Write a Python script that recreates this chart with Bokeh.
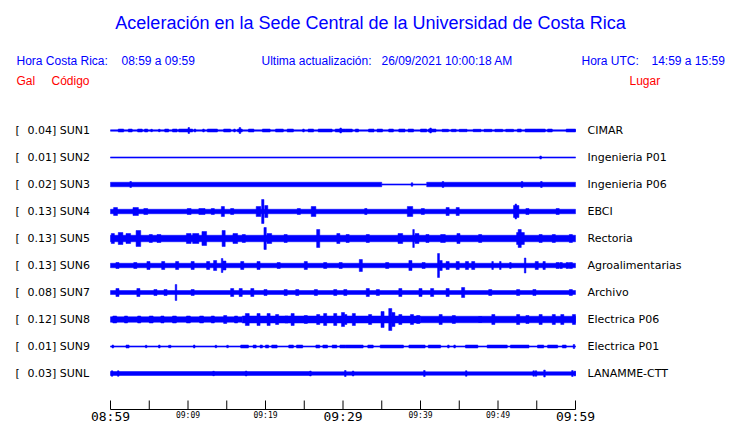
from bokeh.plotting import figure
from bokeh.models import Range1d
from bokeh.core.properties import value
from bokeh.embed import file_html
from bokeh.resources import INLINE

# ---------------- data ----------------
codes = ["SUN1", "SUN2", "SUN3", "SUN4", "SUN5", "SUN6", "SUN7", "SUN8", "SUN9", "SUNL"]
gal = ["0.04", "0.01", "0.02", "0.13", "0.13", "0.13", "0.08", "0.12", "0.01", "0.03"]
places = ["CIMAR", "Ingenieria P01", "Ingenieria P06", "EBCI", "Rectoria",
          "Agroalimentarias", "Archivo", "Electrica P06", "Electrica P01", "LANAMME-CTT"]

tick_minutes = [0, 5, 10, 15, 20, 25, 30, 35, 40, 45, 50, 55, 60]
major_minutes = [0, 30, 60]
major_labels = ["08:59", "09:29", "09:59"]
minor_minutes = [10, 20, 40, 50]
minor_labels = ["09:09", "09:19", "09:39", "09:49"]

title = "Aceleración en la Sede Central de la Universidad de Costa Rica"

# trace envelopes: noise floor segments (t0, t1, peak-to-peak) and bursts (t0, t1, peak-to-peak)
# time in minutes after 08:59, amplitude in display units (27 units = one trace spacing)
floor_sun1 = [(0, 60, 1.5)]
burst_sun1 = [(1.0, 1.7, 3), (2.3, 2.8, 3), (3.5, 4.1, 3), (4.4, 4.8, 3), (5.2, 5.4, 2.5), (6.2, 6.4, 2.5),
              (7.0, 7.5, 3), (8.0, 8.6, 3), (8.8, 10.6, 3), (10.0, 10.2, 6), (10.8, 11.0, 3), (11.9, 12.1, 3),
              (12.5, 13.8, 3), (14.6, 15.5, 3), (15.9, 16.1, 3), (16.4, 17.0, 3), (16.6, 16.8, 6), (17.8, 18.5, 3),
              (19.6, 20.6, 3), (21.3, 22.3, 3), (22.8, 23.6, 3), (24.8, 25.0, 3), (25.5, 26.2, 3), (26.8, 28.6, 3),
              (29.0, 30.3, 3), (29.6, 29.8, 5), (30.3, 31.2, 3), (31.6, 32.0, 3), (33.3, 34.0, 3), (34.4, 35.1, 3),
              (35.9, 36.5, 3), (37.2, 38.0, 3), (38.4, 39.1, 3), (40.0, 40.8, 3), (41.0, 42.0, 3), (41.2, 41.4, 5),
              (42.8, 43.6, 2.5), (44.0, 44.6, 2.5), (45.0, 46.0, 2.5), (46.8, 47.8, 2.5), (48.2, 49.2, 2.5),
              (49.6, 50.6, 2.5), (51.0, 52.0, 2.5), (52.5, 53.0, 3), (53.5, 56.1, 3), (56.4, 57.0, 3), (58.8, 60, 3)]

floor_sun2 = [(0, 60, 1.2)]
burst_sun2 = [(55.4, 55.6, 3)]

floor_sun3 = [(0, 35.0, 4.5), (35.0, 40.8, 1.2), (40.8, 60, 4.5)]
burst_sun3 = [(2.5, 2.7, 6), (38.8, 39.0, 3.5), (42.8, 43.0, 6), (53.0, 53.2, 6), (55.5, 55.7, 6)]

floor_sun4 = [(0, 60, 4.5)]
burst_sun4 = [(0.4, 0.9, 8), (2.9, 3.6, 8), (4.3, 4.8, 6), (9.9, 10.4, 6), (11.4, 12.2, 6), (13.0, 13.4, 6),
              (14.3, 14.7, 10), (15.5, 15.9, 6), (18.8, 19.4, 10), (19.5, 19.8, 24), (19.9, 20.3, 12),
              (24.1, 24.5, 6), (25.9, 26.5, 10), (32.8, 33.1, 6), (38.3, 39.0, 10), (40.1, 40.5, 6),
              (43.3, 43.7, 8), (44.6, 45.0, 8), (52.0, 52.7, 12), (52.2, 52.4, 15), (53.6, 54.0, 6), (57.5, 57.9, 6)]

floor_sun5 = [(0, 60, 6.5)]
burst_sun5 = [(0.1, 0.5, 10), (1.0, 1.6, 12), (2.0, 2.6, 10), (3.3, 3.9, 16), (5.0, 5.4, 8), (6.0, 6.5, 8),
              (9.8, 10.4, 10), (10.6, 11.4, 10), (11.8, 12.4, 14), (14.4, 14.8, 16), (15.8, 16.4, 10),
              (17.0, 17.4, 8), (19.8, 20.1, 22), (20.2, 20.8, 10), (22.4, 22.8, 8), (26.6, 27.0, 18),
              (29.2, 29.6, 10), (30.4, 30.8, 8), (33.0, 33.4, 8), (37.1, 37.7, 10), (39.0, 39.2, 18),
              (39.3, 39.8, 10), (40.7, 41.1, 8), (42.6, 43.2, 8), (44.7, 45.1, 10), (47.5, 47.9, 8),
              (52.4, 53.4, 12), (52.6, 53.0, 18), (55.3, 55.7, 8), (57.0, 57.4, 8), (59.2, 59.6, 8)]

floor_sun6 = [(0, 60, 4.5)]
burst_sun6 = [(0.7, 1.1, 6), (3.0, 3.4, 6), (4.7, 5.1, 8), (6.6, 7.0, 8), (8.4, 8.8, 8), (10.4, 10.8, 8),
              (12.4, 12.8, 8), (13.3, 13.7, 10), (14.3, 14.5, 14), (14.5, 14.9, 9), (16.8, 17.2, 8),
              (18.9, 19.3, 8), (21.5, 21.9, 6), (25.0, 25.4, 8), (27.5, 27.9, 6), (29.5, 29.9, 6),
              (32.1, 32.5, 12), (35.5, 35.9, 6), (38.5, 38.9, 10), (40.2, 40.6, 6), (42.2, 42.45, 24),
              (42.45, 42.8, 10), (43.3, 43.7, 8), (44.6, 45.0, 8), (45.8, 46.2, 8), (46.6, 47.0, 8),
              (49.2, 49.4, 8), (50.2, 50.4, 8), (51.5, 51.7, 6), (53.4, 53.6, 15), (54.8, 55.2, 8),
              (55.8, 56.1, 8), (57.5, 57.9, 6), (58.0, 58.3, 6), (58.8, 59.1, 6), (59.2, 59.6, 6)]

floor_sun7 = [(0, 60, 4)]
burst_sun7 = [(0.7, 1.1, 8), (3.4, 3.8, 8), (5.6, 6.0, 6), (6.9, 7.3, 6), (8.35, 8.55, 16), (10.4, 10.8, 6),
              (15.5, 15.9, 8), (16.6, 17.0, 8), (18.1, 18.5, 8), (19.8, 20.2, 6), (22.4, 22.8, 6),
              (23.9, 24.3, 6), (26.3, 26.7, 6), (28.8, 29.2, 6), (30.1, 30.5, 6), (33.0, 33.4, 8),
              (34.3, 34.7, 6), (37.2, 37.6, 8), (39.8, 40.2, 8), (41.3, 41.7, 8), (43.3, 43.7, 8),
              (45.3, 45.7, 10), (48.8, 49.2, 6), (52.4, 52.8, 6), (54.5, 54.9, 6), (59.2, 59.6, 6)]

floor_sun8 = [(0, 17, 5.5), (17, 40, 7), (40, 60, 6.5)]
burst_sun8 = [(0.3, 0.8, 7), (1.8, 2.2, 7), (3.5, 3.9, 7), (5.0, 5.5, 7), (6.5, 6.9, 7), (8.0, 8.5, 7),
              (9.8, 10.3, 7), (11.5, 12.0, 7), (13.0, 13.4, 7), (14.6, 15.0, 8), (16.0, 16.4, 7),
              (17.4, 17.9, 12), (18.9, 19.3, 12), (20.2, 20.6, 12), (21.3, 21.7, 10), (22.5, 22.9, 7),
              (23.3, 23.7, 12), (25.0, 25.4, 8), (26.6, 27.0, 10), (27.5, 27.9, 12), (28.8, 29.2, 12),
              (29.8, 30.2, 14), (30.2, 30.5, 10), (31.2, 31.6, 12), (33.3, 33.7, 10), (34.9, 35.3, 16),
              (35.9, 36.3, 22), (36.3, 36.7, 14), (37.2, 37.6, 10), (38.7, 39.1, 10), (39.5, 39.9, 8),
              (42.4, 42.8, 10), (44.1, 44.5, 8), (47.5, 47.9, 6), (49.2, 49.6, 10), (52.4, 52.8, 10),
              (53.6, 54.0, 8), (55.3, 55.7, 10), (57.0, 57.4, 10), (58.1, 58.5, 10), (59.6, 60.0, 10)]

floor_sun9 = [(0, 60, 1.2)]
burst_sun9 = [(0.2, 0.4, 3), (2.0, 2.4, 3), (4.5, 4.7, 2.5), (6.2, 6.4, 3), (7.5, 7.8, 2.5), (10.7, 10.9, 3),
              (13.5, 13.7, 2.5), (15.0, 15.2, 2.5), (16.8, 17.8, 3), (18.4, 18.8, 3), (19.3, 19.6, 3),
              (20.0, 20.4, 3), (20.8, 21.5, 3), (23.0, 23.6, 3), (24.0, 24.8, 3), (26.5, 27.0, 3),
              (27.4, 28.0, 3), (28.6, 29.2, 3), (29.6, 30.3, 3), (30.3, 32.6, 3), (33.2, 33.9, 3),
              (34.8, 37.8, 3), (38.5, 40.6, 3), (41.0, 42.6, 3), (43.5, 43.7, 3), (44.3, 44.5, 3),
              (45.8, 47.4, 3), (48.6, 51.2, 3), (51.6, 54.0, 3), (55.1, 55.9, 3), (56.4, 57.7, 3),
              (58.3, 58.8, 3), (59.7, 59.9, 4)]

floor_sunl = [(0, 25.7, 4), (25.7, 60, 3.5)]
burst_sunl = [(0.1, 0.3, 5.5), (0.9, 1.1, 5.5), (13.2, 13.4, 4.5), (17.4, 17.6, 5), (25.7, 25.9, 5),
              (30.2, 30.4, 6), (31.2, 31.4, 5), (40.4, 40.6, 6), (45.8, 46.0, 5.5), (54.5, 54.7, 5.5),
              (54.8, 55.0, 5.5), (55.9, 56.1, 7), (59.5, 59.7, 6), (59.85, 60.0, 5)]

floors = [floor_sun1, floor_sun2, floor_sun3, floor_sun4, floor_sun5,
          floor_sun6, floor_sun7, floor_sun8, floor_sun9, floor_sunl]
bursts = [burst_sun1, burst_sun2, burst_sun3, burst_sun4, burst_sun5,
          burst_sun6, burst_sun7, burst_sun8, burst_sun9, burst_sunl]

# ---------------- layout ----------------
W, H = 740, 423                   # Bokeh's page template has no body margin
X0_PX, X60_PX = 110, 575          # px of 08:59 and 09:59
ROW0_PX, ROW_PX = 130, 27         # px of first trace and trace spacing
PPM = (X60_PX - X0_PX) / 60.0
GAIN = 27.0                       # display units per trace spacing

def px_x(px):
    return (px - X0_PX) / PPM

def px_y(py):
    return (py - ROW0_PX) / ROW_PX

BLUE = "#0000ff"
RED = "#ff0000"

p = figure(width=W, height=H,
           x_range=Range1d(px_x(0), px_x(W)),
           y_range=Range1d(px_y(H), px_y(0)),
           x_axis_location=None, y_axis_location=None,
           min_border=0, output_backend="svg", toolbar_location=None)
p.grid.visible = False
p.outline_line_color = None
p.background_fill_color = "white"
p.border_fill_color = "white"

# traces
L, R, B, T = [], [], [], []
for i, (fl, bu) in enumerate(zip(floors, bursts)):
    for t0, t1, a in fl + bu:
        L.append(t0); R.append(t1)
        B.append(i - a / GAIN / 2); T.append(i + a / GAIN / 2)
p.quad(left=L, right=R, bottom=B, top=T, fill_color=BLUE, line_color=BLUE, line_width=0.5)

# time axis
axis_y = px_y(409)
tick_len = 9 / ROW_PX
p.segment(x0=[0], x1=[60], y0=[axis_y], y1=[axis_y], line_color="black", line_width=1)
p.segment(x0=tick_minutes, x1=tick_minutes, y0=[axis_y] * len(tick_minutes),
          y1=[axis_y - tick_len] * len(tick_minutes), line_color="black", line_width=1)
p.text(x=major_minutes, y=[px_y(416)] * 3, text=major_labels, text_font=value("DejaVu Sans Mono"),
       text_font_size="13px", text_align="center", text_baseline="middle", text_color="black")
p.text(x=minor_minutes, y=[px_y(415)] * 4, text=minor_labels, text_font=value("DejaVu Sans Mono"),
       text_font_size="8px", text_align="center", text_baseline="middle", text_color="black")

# row labels
rows = list(range(len(codes)))
p.text(x=[px_x(15)] * len(rows), y=rows, text=["["] * len(rows), text_font=value("DejaVu Sans"),
       text_font_size="11px", text_align="left", text_baseline="middle", text_color="black")
p.text(x=[px_x(27)] * len(rows), y=rows, text=[f"{g}] {c}" for g, c in zip(gal, codes)],
       text_font=value("DejaVu Sans"), text_font_size="11px", text_align="left",
       text_baseline="middle", text_color="black")
p.text(x=[px_x(587)] * len(rows), y=rows, text=places, text_font=value("DejaVu Sans"),
       text_font_size="11px", text_align="left", text_baseline="middle", text_color="black")

# header texts
def txt(px, py, s, color, size, align="left", font="Liberation Sans"):
    p.text(x=[px_x(px)], y=[px_y(py)], text=[s], text_font=value(font), text_font_size=size,
           text_align=align, text_baseline="middle", text_color=color)

txt(370, 22, title, BLUE, "18px", align="center")
txt(16, 60, "Hora Costa Rica:", BLUE, "12px")
txt(121, 60, "08:59 a 09:59", BLUE, "12px")
txt(261, 60, "Ultima actualización:", BLUE, "12px")
txt(381, 60, "26/09/2021 10:00:18 AM", BLUE, "12px")
txt(581, 60, "Hora UTC:", BLUE, "12px")
txt(651, 60, "14:59 a 15:59", BLUE, "12px")
txt(16, 80, "Gal", RED, "12px")
txt(51, 80, "Código", RED, "12px")
txt(629, 80, "Lugar", RED, "12px")

open("out.html", "w").write(file_html(p, INLINE))
